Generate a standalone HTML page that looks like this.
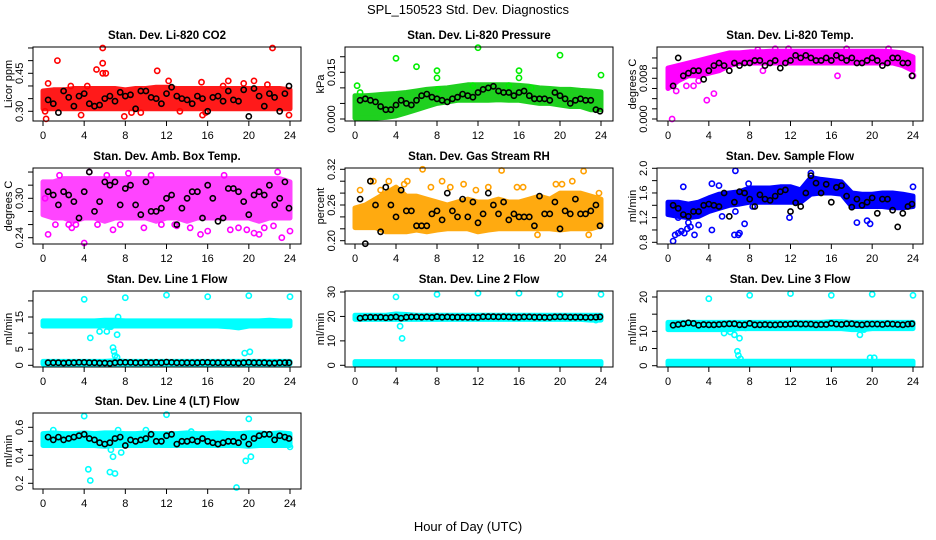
<!DOCTYPE html>
<html><head><meta charset="utf-8"><title>SPL_150523 Std. Dev. Diagnostics</title>
<style>
html,body{margin:0;padding:0;background:#fff;}
svg{display:block;font-family:"Liberation Sans",Arial,sans-serif;}
</style></head>
<body>
<svg id="chart" width="936" height="540" viewBox="0 0 936 540" xmlns="http://www.w3.org/2000/svg">
<rect x="0" y="0" width="936" height="540" fill="#fff"/>
<text x="468" y="14" text-anchor="middle" font-size="13">SPL_150523  Std. Dev. Diagnostics</text>
<text x="468" y="531" text-anchor="middle" font-size="13">Hour of Day (UTC)</text>
</svg>
<script>
// ---------- data ----------
const bandHours=[0,1,2,3,4,5,6,7,8,9,10,11,12,13,14,15,16,17,18,19,20,21,22,23,24];
const blackHours=[0.5,1,1.5,2,2.5,3,3.5,4,4.5,5,5.5,6,6.5,7,7.5,8,8.5,9,9.5,10,10.5,11,11.5,12,12.5,13,13.5,14,14.5,15,15.5,16,16.5,17,17.5,18,18.5,19,19.5,20,20.5,21,21.5,22,22.5,23,23.5,23.9];
const xTicks=[0,4,8,12,16,20,24];

const co2Lo=[0.31,0.31,0.31,0.31,0.31,0.31,0.31,0.31,0.31,0.31,0.31,0.31,0.31,0.31,0.31,0.31,0.31,0.31,0.31,0.31,0.31,0.31,0.31,0.31,0.31];
const co2Hi=[0.38,0.385,0.385,0.39,0.39,0.39,0.39,0.39,0.385,0.39,0.39,0.395,0.395,0.39,0.39,0.39,0.39,0.39,0.39,0.39,0.39,0.39,0.39,0.39,0.385];
const co2OutX=[1.4,5.8,5.8,5.2,5.8,6.1,11.1,22.3,0.3,7.9,15.5,23.9,20.5,12.2,3.7,0.5,15.8,18,15.4,2.7,9.5,17.5,21.8,4.3,13.3,19.5,8.6,0.2];
const co2OutY=[0.50,0.55,0.49,0.465,0.45,0.45,0.46,0.55,0.27,0.28,0.285,0.285,0.42,0.42,0.285,0.41,0.295,0.42,0.415,0.40,0.295,0.40,0.405,0.40,0.30,0.41,0.295,0.30];
const co2Black=[0.345,0.33,0.295,0.38,0.355,0.32,0.36,0.37,0.33,0.32,0.325,0.35,0.36,0.34,0.375,0.36,0.365,0.31,0.38,0.38,0.355,0.35,0.33,0.37,0.395,0.36,0.35,0.345,0.33,0.36,0.35,0.30,0.355,0.36,0.34,0.38,0.345,0.34,0.385,0.28,0.39,0.36,0.32,0.37,0.355,0.30,0.37,0.40];

const presLo=[0.0003,0.0003,0.0003,0.0005,0.001,0.002,0.003,0.004,0.005,0.0055,0.006,0.006,0.006,0.006,0.0062,0.006,0.006,0.0055,0.005,0.005,0.0045,0.004,0.004,0.003,0.003];
const presHi=[0.0075,0.0075,0.0077,0.008,0.0082,0.0085,0.009,0.0095,0.0098,0.010,0.0105,0.011,0.011,0.011,0.011,0.011,0.0108,0.0105,0.010,0.0098,0.0095,0.0095,0.0092,0.009,0.0087];
const presOutX=[4,12,6,8,8,16,16,20,24,0.2,11.5,15,0.5,17.2,8.1];
const presOutY=[0.0195,0.0229,0.0168,0.0155,0.0132,0.0155,0.0132,0.0205,0.0141,0.0107,0.0107,0.0107,0.0085,0.0100,0.0095];
const presBlack=[0.006,0.0065,0.006,0.0055,0.004,0.003,0.003,0.0045,0.006,0.005,0.0045,0.006,0.0075,0.008,0.007,0.0065,0.006,0.0055,0.0065,0.007,0.008,0.0075,0.007,0.0085,0.0095,0.010,0.0105,0.009,0.0085,0.0085,0.0075,0.0085,0.009,0.0075,0.0065,0.0065,0.0065,0.006,0.0085,0.0075,0.0065,0.005,0.006,0.0065,0.006,0.006,0.003,0.0025];

const tempLo=[0.006,0.0075,0.0085,0.0085,0.009,0.0095,0.0105,0.011,0.011,0.011,0.011,0.011,0.011,0.011,0.011,0.011,0.011,0.011,0.011,0.011,0.011,0.011,0.011,0.0105,0.0095];
const tempHi=[0.010,0.0105,0.011,0.0115,0.012,0.0125,0.013,0.013,0.0132,0.0132,0.0133,0.0133,0.0133,0.0133,0.0133,0.0133,0.0133,0.0133,0.0133,0.0133,0.0133,0.0133,0.0132,0.013,0.0122];
const tempOutX=[0.4,3.8,4.5,0.8,1.8,2.5,9.3,16.6,24,0.3,1.4,3.0,11.8,17.5,21.6,10.5,8.8];
const tempOutY=[0.0,0.0037,0.005,0.0055,0.0065,0.0065,0.0095,0.0085,0.0085,0.0065,0.0085,0.0075,0.0138,0.0138,0.0138,0.0138,0.0136];
const tempBlack=[0.0065,0.012,0.0085,0.009,0.0095,0.0095,0.0078,0.0095,0.0105,0.011,0.0105,0.0095,0.011,0.0105,0.011,0.011,0.0115,0.0115,0.0105,0.011,0.0115,0.010,0.011,0.0115,0.0125,0.012,0.0125,0.012,0.0115,0.0115,0.012,0.0115,0.0125,0.012,0.0115,0.012,0.011,0.011,0.0115,0.012,0.0115,0.0105,0.011,0.012,0.012,0.011,0.0110,0.0085];

const ambLo=[0.275,0.27,0.27,0.265,0.27,0.27,0.265,0.27,0.27,0.27,0.27,0.265,0.27,0.27,0.265,0.27,0.27,0.27,0.27,0.27,0.27,0.265,0.27,0.27,0.27];
const ambHi=[0.325,0.325,0.33,0.33,0.33,0.33,0.33,0.33,0.33,0.33,0.33,0.33,0.33,0.33,0.33,0.33,0.33,0.33,0.33,0.33,0.33,0.33,0.33,0.33,0.325];
const ambOutX=[0.5,4,4.5,6.2,15.3,20.5,21,23.2,24,1.6,2.8,11.5,19,22.8,0.2,13,16,21.5,1.2,3.2,7.5,9.8,14.3,18.2,10.5,5.3,8.3,17.6,12.8,22.4,2.5,6.8,19.8];
const ambOutY=[0.245,0.232,0.34,0.335,0.245,0.247,0.245,0.24,0.25,0.335,0.255,0.26,0.255,0.34,0.30,0.258,0.25,0.255,0.26,0.26,0.26,0.255,0.255,0.252,0.335,0.26,0.338,0.335,0.26,0.258,0.26,0.252,0.252];
const ambBlack=[0.31,0.305,0.29,0.31,0.305,0.295,0.27,0.31,0.34,0.28,0.295,0.325,0.32,0.325,0.29,0.315,0.32,0.29,0.275,0.325,0.28,0.28,0.285,0.30,0.305,0.26,0.285,0.30,0.31,0.31,0.27,0.32,0.30,0.265,0.27,0.315,0.315,0.31,0.295,0.275,0.305,0.31,0.305,0.32,0.29,0.30,0.325,0.285];

const rhLo=[0.222,0.222,0.222,0.215,0.215,0.215,0.218,0.215,0.218,0.22,0.22,0.22,0.215,0.218,0.22,0.22,0.22,0.22,0.22,0.22,0.218,0.22,0.22,0.22,0.225];
const rhHi=[0.255,0.26,0.27,0.28,0.29,0.275,0.275,0.27,0.265,0.26,0.265,0.27,0.265,0.265,0.27,0.265,0.265,0.27,0.275,0.27,0.28,0.28,0.28,0.275,0.27];
const rhOutX=[0.5,1.5,1.8,3.3,4.8,5.1,6.6,8.5,9.3,11.8,13.0,14.3,15.8,16.4,20.2,21.2,22.3,23.8,22.8,19.6,7.4,2.5,10.6,17.8];
const rhOutY=[0.285,0.30,0.30,0.30,0.295,0.30,0.32,0.30,0.29,0.285,0.29,0.318,0.29,0.29,0.295,0.3,0.317,0.28,0.21,0.295,0.29,0.285,0.295,0.21];
const rhBlack=[0.27,0.195,0.30,0.26,0.215,0.29,0.26,0.24,0.285,0.25,0.25,0.225,0.225,0.225,0.245,0.25,0.235,0.28,0.25,0.24,0.27,0.24,0.265,0.23,0.245,0.28,0.26,0.245,0.265,0.235,0.245,0.24,0.24,0.24,0.225,0.275,0.245,0.245,0.265,0.22,0.25,0.245,0.27,0.245,0.245,0.25,0.26,0.225];

const sfLo=[1.25,1.22,1.2,1.22,1.3,1.35,1.4,1.42,1.45,1.45,1.45,1.45,1.45,1.45,1.58,1.6,1.6,1.58,1.38,1.38,1.38,1.38,1.36,1.36,1.38];
const sfHi=[1.45,1.45,1.42,1.45,1.52,1.58,1.6,1.62,1.68,1.68,1.68,1.7,1.7,1.65,1.85,1.82,1.8,1.78,1.6,1.58,1.58,1.6,1.6,1.58,1.55];
const sfOutX=[0.5,0.7,1.0,1.3,1.6,1.9,2.2,2.6,1.5,4.3,4.3,5.0,5.3,6.5,6.6,7.0,6.9,14.0,18.5,19.5,19.8,24.0,1.0,2.0,6.6,7.9,11.9,8.3,3.0,7.5];
const sfOutY=[0.82,0.92,0.95,0.98,0.95,1.02,1.05,0.92,1.7,1.75,1.0,1.72,1.22,0.92,1.96,0.95,0.92,1.92,1.12,1.15,1.1,1.7,1.2,1.12,1.3,1.75,1.2,1.38,1.08,1.1];
const sfBlack=[1.4,1.35,1.25,1.22,1.3,1.3,1.4,1.42,1.4,1.38,1.6,1.22,1.45,1.62,1.6,1.5,1.38,1.57,1.5,1.48,1.55,1.62,1.65,1.3,1.44,1.38,1.6,1.88,1.76,1.6,1.74,1.45,1.69,1.72,1.55,1.37,1.5,1.4,1.45,1.52,1.27,1.5,1.5,1.32,1.05,1.27,1.38,1.42];

const l1Lo=[12.2,12.2,12.2,12.2,12.2,12.2,12.2,12.2,12.2,12.2,12.2,12.2,12.2,12.2,12.2,12.2,12.2,12.2,12.0,11.6,12.2,12.2,12.2,12.2,12.2];
const l1Hi=[13.8,13.8,13.8,13.8,13.8,13.8,14.0,14.0,13.8,13.8,13.8,13.8,13.8,13.8,13.8,13.8,13.8,13.8,13.8,13.8,13.8,13.8,14.0,13.8,13.8];
const l1LowLo=[0.4,0.4,0.4,0.4,0.4,0.4,0.3,0.4,0.4,0.4,0.4,0.4,0.4,0.4,0.4,0.4,0.4,0.4,0.4,0.4,0.4,0.4,0.4,0.4,0.4];
const l1LowHi=[1.2,1.2,1.2,1.2,1.2,1.2,1.2,1.4,1.2,1.2,1.2,1.2,1.2,1.2,1.2,1.2,1.2,1.2,1.2,1.2,1.2,1.2,1.2,1.2,1.2];
const l1OutX=[4,8,12,16,20,24,4.6,5.5,6.2,6.6,7.2,6.8,6.9,7.0,7.2,19.6,20.1,7.3];
const l1OutY=[20.5,21,21.8,21.3,21.6,21.3,8.5,10.5,10.5,12,9.5,5.5,4.3,3,2.5,3.8,4.2,15];
const l1Black=[0.8,0.8,0.8,0.7,0.8,0.8,0.9,0.9,0.8,0.8,0.7,0.7,0.6,0.8,0.9,0.9,0.9,0.8,0.8,0.9,0.8,0.9,0.8,1.0,0.9,0.8,0.8,0.8,0.8,0.8,0.9,0.9,0.8,0.8,0.8,0.8,0.8,0.7,0.8,0.9,0.8,0.8,0.8,0.7,0.7,0.8,0.8,0.8];

const l2Lo=[18.8,18.8,18.8,18.8,18.8,18.8,18.8,18.8,18.8,18.8,18.8,18.8,18.8,18.8,18.8,18.8,18.8,18.8,18.8,18.8,18.8,18.8,18.8,18.5,18.5];
const l2Hi=[20.5,20.5,20.5,20.5,21,20.8,20.5,20.5,20.5,20.5,20.5,20.5,20.5,20.5,20.5,20.5,20.5,20.5,20.5,20.5,20.5,20.5,20.5,20.5,20.5];
const l2LowLo=[0.3,0.3,0.3,0.3,0.3,0.3,0.3,0.3,0.3,0.3,0.3,0.3,0.3,0.3,0.3,0.3,0.3,0.3,0.3,0.3,0.3,0.3,0.3,0.3,0.3];
const l2LowHi=[1.5,1.5,1.5,1.5,1.5,1.5,1.5,1.5,1.5,1.5,1.5,1.5,1.5,1.5,1.5,1.5,1.5,1.5,1.5,1.5,1.5,1.5,1.5,1.5,1.5];
const l2OutX=[4,8,12,16,20,24,4.4,4.6,23.5];
const l2OutY=[28,29,29.5,29.5,29,29,16,11,18.5];
const l2Black=[19.3,19.6,19.7,19.6,19.7,19.5,19.6,19.8,19.3,19.7,19.8,19.8,19.7,19.8,19.6,19.9,19.7,19.8,19.7,19.7,19.7,19.6,19.7,19.6,19.9,19.9,19.9,19.8,19.9,19.8,19.7,19.7,19.8,19.8,19.7,19.7,19.6,19.6,19.8,19.8,19.8,19.7,19.7,19.7,19.6,19.6,19.7,19.8];

const l3Lo=[10.5,10.5,10.5,10.5,10.5,10.5,10.5,10.8,10.8,10.8,10.8,10.8,10.8,10.8,10.8,10.8,10.8,10.8,10.5,10.5,10.8,10.8,10.8,10.8,10.8];
const l3Hi=[12.6,12.6,12.6,12.6,12.6,12.6,12.6,12.6,12.6,12.6,12.6,12.6,12.6,12.6,12.6,12.6,12.8,12.8,12.6,12.6,12.6,12.6,12.6,12.6,12.6];
const l3LowLo=[0.2,0.2,0.2,0.2,0.2,0.2,0.2,0.2,0.2,0.2,0.2,0.2,0.2,0.2,0.2,0.2,0.2,0.2,0.2,0.2,0.2,0.2,0.2,0.2,0.2];
const l3LowHi=[1.3,1.3,1.3,1.3,1.3,1.3,1.3,1.3,1.3,1.3,1.3,1.3,1.3,1.3,1.3,1.3,1.3,1.3,1.3,1.3,1.3,1.3,1.3,1.3,1.3];
const l3OutX=[4,8,12,16,20,24,5.5,6.1,6.5,7.0,6.8,6.9,7.1,18.8,19.2,19.8,20.2,7.6];
const l3OutY=[19.5,20.5,21,20.5,20.8,20.5,9.5,9.8,9,8,4.2,3,2,9,10.5,2.3,2.3,11];
const l3Black=[11.8,12.0,12.2,12.5,12.3,11.8,12.0,11.9,11.9,12.0,12.1,12.2,12.2,11.9,11.9,12.3,11.9,11.9,12.0,11.9,11.9,12.0,12.0,12.1,12.2,12.1,12.1,12.1,11.9,12.0,12.0,12.3,12.1,12.0,12.2,12.2,12.0,11.9,12.1,12.1,12.1,12.0,12.2,12.1,12.0,11.9,12.1,12.2];

const l4Lo=[0.47,0.47,0.47,0.47,0.47,0.47,0.465,0.47,0.47,0.47,0.47,0.47,0.47,0.47,0.47,0.47,0.47,0.47,0.47,0.47,0.465,0.47,0.47,0.47,0.47];
const l4Hi=[0.555,0.56,0.555,0.555,0.56,0.555,0.56,0.56,0.555,0.555,0.56,0.555,0.555,0.555,0.56,0.555,0.555,0.56,0.555,0.555,0.56,0.56,0.555,0.56,0.555];
const l4OutX=[4,12,20,4.4,4.6,6.5,7.0,6.8,6.6,7.6,18.8,19.7,20.2,1.0,10.0,14.4,7.3,24];
const l4OutY=[0.68,0.69,0.66,0.30,0.22,0.28,0.27,0.39,0.44,0.42,0.17,0.36,0.39,0.58,0.58,0.57,0.58,0.46];
const l4Black=[0.53,0.51,0.53,0.51,0.52,0.53,0.54,0.55,0.52,0.51,0.49,0.48,0.49,0.52,0.53,0.47,0.51,0.50,0.51,0.52,0.55,0.50,0.50,0.54,0.55,0.48,0.50,0.50,0.51,0.50,0.52,0.50,0.49,0.48,0.49,0.50,0.50,0.49,0.53,0.48,0.52,0.54,0.55,0.55,0.51,0.54,0.53,0.52];

const co2Ticks=[0.30,0.35,0.40,0.45,0.50,0.55];   const co2Labels=["0.30","","","0.45","",""];
const presTicks=[0,0.005,0.010,0.015,0.020];      const presLabels=["0.000","","","0.015",""];
const tempTicks=[0,0.002,0.004,0.006,0.008,0.010,0.012]; const tempLabels=["0.000","","","","0.008","",""];
const ambTicks=[0.24,0.26,0.28,0.30,0.32,0.34];  const ambLabels=["0.24","","","0.30","",""];
const rhTicks=[0.20,0.22,0.24,0.26,0.28,0.30,0.32]; const rhLabels=["0.20","","","0.26","","","0.32"];
const sfTicks=[0.8,1.0,1.2,1.4,1.6,1.8,2.0];     const sfLabels=["0.8","","1.2","","1.6","","2.0"];
const l1Ticks=[0,5,10,15,20];                     const l1Labels=["0","5","","15",""];
const l2Ticks=[0,10,20,30];                       const l2Labels=["0","10","20","30"];
const l3Ticks=[0,5,10,15,20];                     const l3Labels=["0","5","10","","20"];
const l4Ticks=[0.2,0.3,0.4,0.5,0.6];              const l4Labels=["0.2","","0.4","","0.6"];

// ---------- layout (not data) ----------
const colL=[33,345,657], colR=[301,613,923], colX0=[43,355,668], colX24=[290,601,913];
const rowT=[47,168,291,413], rowB=[121,244,367,489];

const panels=[
 {name:"co2",title:"Stan. Dev. Li-820 CO2",ylab:"Licor ppm",r:0,c:0,ref:[0.30,111.3,0.45,73.3],col:"#ff0000",band:"#ff1a1a",bands:[[co2Lo,co2Hi]],ox:co2OutX,oy:co2OutY,bk:co2Black,ticks:co2Ticks,labels:co2Labels},
 {name:"pressure",title:"Stan. Dev. Li-820 Pressure",ylab:"kPa",r:0,c:1,ref:[0,119,0.015,72.3],col:"#00ee00",band:"#1fd01f",bands:[[presLo,presHi]],ox:presOutX,oy:presOutY,bk:presBlack,ticks:presTicks,labels:presLabels},
 {name:"li820-temp",title:"Stan. Dev. Li-820 Temp.",ylab:"degrees C",r:0,c:2,ref:[0,119,0.008,78.3],col:"#ff00ff",bands:[[tempLo,tempHi]],ox:tempOutX,oy:tempOutY,bk:tempBlack,ticks:tempTicks,labels:tempLabels},
 {name:"amb-box-temp",title:"Stan. Dev. Amb. Box Temp.",ylab:"degrees C",r:1,c:0,ref:[0.24,237.7,0.30,198.3],col:"#ff00ff",band:"#ff44ff",bands:[[ambLo,ambHi]],ox:ambOutX,oy:ambOutY,bk:ambBlack,ticks:ambTicks,labels:ambLabels},
 {name:"gas-rh",title:"Stan. Dev. Gas Stream RH",ylab:"percent",r:1,c:1,ref:[0.20,240.7,0.32,169.3],col:"#ffa000",band:"#ffaa10",bands:[[rhLo,rhHi]],ox:rhOutX,oy:rhOutY,bk:rhBlack,ticks:rhTicks,labels:rhLabels},
 {name:"sample-flow",title:"Stan. Dev. Sample Flow",ylab:"ml/min",r:1,c:2,ref:[0.8,242.3,2.0,168.3],col:"#0000ff",bands:[[sfLo,sfHi]],ox:sfOutX,oy:sfOutY,bk:sfBlack,ticks:sfTicks,labels:sfLabels},
 {name:"line1-flow",title:"Stan. Dev. Line 1 Flow",ylab:"ml/min",r:2,c:0,ref:[0,365.3,15,317],col:"#00ffff",bands:[[l1Lo,l1Hi],[l1LowLo,l1LowHi]],ox:l1OutX,oy:l1OutY,bk:l1Black,ticks:l1Ticks,labels:l1Labels},
 {name:"line2-flow",title:"Stan. Dev. Line 2 Flow",ylab:"ml/min",r:2,c:1,ref:[0,365.3,30,292],col:"#00ffff",bands:[[l2Lo,l2Hi],[l2LowLo,l2LowHi]],ox:l2OutX,oy:l2OutY,bk:l2Black,ticks:l2Ticks,labels:l2Labels},
 {name:"line3-flow",title:"Stan. Dev. Line 3 Flow",ylab:"ml/min",r:2,c:2,ref:[0,365.7,20,297],col:"#00ffff",bands:[[l3Lo,l3Hi],[l3LowLo,l3LowHi]],ox:l3OutX,oy:l3OutY,bk:l3Black,ticks:l3Ticks,labels:l3Labels},
 {name:"line4-flow",title:"Stan. Dev. Line 4 (LT) Flow",ylab:"ml/min",r:3,c:0,ref:[0.2,483.3,0.6,427.3],col:"#00ffff",bands:[[l4Lo,l4Hi]],ox:l4OutX,oy:l4OutY,bk:l4Black,ticks:l4Ticks,labels:l4Labels}
];

const NS="http://www.w3.org/2000/svg";
const svg=document.getElementById("chart");
function mk(tag,attrs,parent){const e=document.createElementNS(NS,tag);for(const k in attrs)e.setAttribute(k,attrs[k]);parent.appendChild(e);return e;}

panels.forEach(p=>{
  const L=colL[p.c],R=colR[p.c],T=rowT[p.r],B=rowB[p.r];
  const x0=colX0[p.c],x24=colX24[p.c];
  const xs=h=>x0+(x24-x0)*h/24;
  const [v1,p1,v2,p2]=p.ref;
  const ys=v=>p1+(v-v1)*(p2-p1)/(v2-v1);
  const g=mk("g",{},svg);
  
  

  p.bands.forEach((bd)=>{
    const lo=bd[0],hi=bd[1];
    let pts=bandHours.map((h,i)=>xs(h).toFixed(1)+","+ys(hi[i]).toFixed(1));
    for(let i=bandHours.length-1;i>=0;i--)pts.push(xs(bandHours[i]).toFixed(1)+","+ys(lo[i]).toFixed(1));
    const poly=mk("polygon",{points:pts.join(" "),fill:p.band||p.col,stroke:p.band||p.col,"stroke-width":5,"stroke-linejoin":"round"},g);
    
    
  });
  p.ox.forEach((h,i)=>{
    const c=mk("circle",{cx:xs(h).toFixed(1),cy:ys(p.oy[i]).toFixed(1),r:2.6,fill:"none",stroke:p.col,"stroke-width":1.6},g);
    
    
  });
  p.bk.forEach((v,i)=>{
    const c=mk("circle",{cx:xs(blackHours[i]).toFixed(1),cy:ys(v).toFixed(1),r:2.6,fill:"none",stroke:"#000","stroke-width":1.6},g);
    
    
  });
  const box=mk("rect",{x:L,y:T,width:R-L,height:B-T,fill:"none",stroke:"#000","stroke-width":1},g);
  
  
  const xa=mk("g",{},g);
  
  
  mk("line",{x1:xs(xTicks[0]),x2:xs(xTicks[xTicks.length-1]),y1:B,y2:B,stroke:"#000"},xa);
  xTicks.forEach(t=>{
    mk("line",{x1:xs(t),x2:xs(t),y1:B,y2:B+5,stroke:"#000"},xa);
    const tx=mk("text",{x:xs(t),y:B+18,"text-anchor":"middle","font-size":11},xa);
    tx.textContent=String(t);
    
    
  });
  const ya=mk("g",{},g);
  
  
  mk("line",{x1:L,x2:L,y1:ys(p.ticks[0]),y2:ys(p.ticks[p.ticks.length-1]),stroke:"#000"},ya);
  p.ticks.forEach((t,i)=>{
    const y=ys(t);
    mk("line",{x1:L-5,x2:L,y1:y,y2:y,stroke:"#000"},ya);
    if(p.labels[i]){
      const tx=mk("text",{x:L-10,y:y,"text-anchor":"middle","font-size":11,transform:"rotate(-90 "+(L-10)+" "+y+")"},ya);
      tx.textContent=p.labels[i];
      
      
    }
  });
  const yl=mk("text",{x:L-21,y:(T+B)/2,"text-anchor":"middle","font-size":11,transform:"rotate(-90 "+(L-21)+" "+((T+B)/2)+")"},g);
  yl.textContent=p.ylab;
  
  
  const ti=mk("text",{x:(L+R)/2,y:T-8,"text-anchor":"middle","font-size":11.5,"font-weight":"bold"},g);
  ti.textContent=p.title;
  
  
});
</script>
</body></html>
